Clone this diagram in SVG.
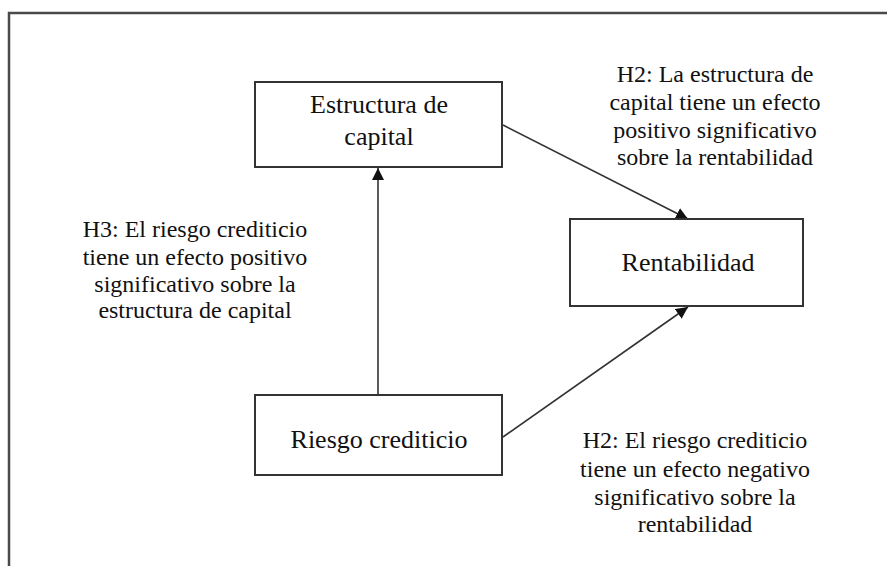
<svg xmlns="http://www.w3.org/2000/svg" width="887" height="566" viewBox="0 0 887 566">
<style>
.frame{fill:none;stroke:#4a4a4a;stroke-width:2.5}
.box{fill:#fff;stroke:#333;stroke-width:2}
.node{font-family:"Liberation Serif","Times New Roman",serif;font-size:26px;fill:#111;text-anchor:middle}
.lbl{font-family:"Liberation Serif","Times New Roman",serif;font-size:24px;fill:#111;text-anchor:middle}
.edge{fill:none;stroke:#333;stroke-width:1.6}
</style>
<defs>
<marker id="ah" viewBox="0 0 10 10" refX="10" refY="5" markerWidth="7.5" markerHeight="7.5" orient="auto" markerUnits="strokeWidth">
<path d="M0,0 L10,5 L0,10 Z" fill="#111"/>
</marker>
</defs>
<rect width="887" height="566" fill="#fff"/>
<path class="frame" d="M9,566 V13 H887"/>
<g id="connectors">
<line class="edge" x1="378" y1="395" x2="378" y2="168" marker-end="url(#ah)"/>
<line class="edge" x1="503" y1="125" x2="688" y2="219" marker-end="url(#ah)"/>
<line class="edge" x1="503" y1="437" x2="688" y2="307" marker-end="url(#ah)"/>
</g>
<g id="estructura">
<rect class="box" x="255" y="82" width="247" height="85"/>
<text class="node" x="379" y="113">Estructura de</text>
<text class="node" x="379" y="145">capital</text>
</g>
<g id="rentabilidad">
<rect class="box" x="570" y="219" width="233" height="87"/>
<text class="node" x="688" y="271">Rentabilidad</text>
</g>
<g id="riesgo">
<rect class="box" x="255" y="395" width="247" height="80"/>
<text class="node" x="379" y="448">Riesgo crediticio</text>
</g>
<g id="label-h2-top">
<text class="lbl" x="715" y="82">H2: La estructura de</text>
<text class="lbl" x="715" y="110">capital tiene un efecto</text>
<text class="lbl" x="715" y="138">positivo significativo</text>
<text class="lbl" x="715" y="165">sobre la rentabilidad</text>
</g>
<g id="label-h3">
<text class="lbl" x="195" y="237">H3: El riesgo crediticio</text>
<text class="lbl" x="195" y="265">tiene un efecto positivo</text>
<text class="lbl" x="195" y="292">significativo sobre la</text>
<text class="lbl" x="195" y="318">estructura de capital</text>
</g>
<g id="label-h2-bottom">
<text class="lbl" x="695" y="448">H2: El riesgo crediticio</text>
<text class="lbl" x="695" y="477">tiene un efecto negativo</text>
<text class="lbl" x="695" y="505">significativo sobre la</text>
<text class="lbl" x="695" y="532">rentabilidad</text>
</g>
</svg>
